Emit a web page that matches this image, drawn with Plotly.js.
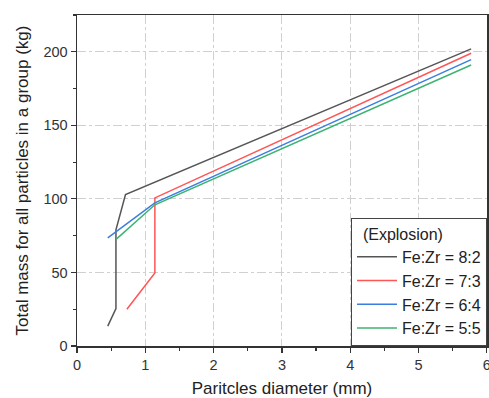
<!DOCTYPE html>
<html><head><meta charset="utf-8">
<script src="https://cdn.plot.ly/plotly-3.0.1.min.js"></script>
<style>html,body{margin:0;padding:0;background:#fff}#plot{width:489px;height:398px}</style>
</head><body><div id="plot"></div>
<script>
const seriesNames = ["Fe:Zr = 8:2", "Fe:Zr = 7:3", "Fe:Zr = 6:4", "Fe:Zr = 5:5"];
const x82 = [0.45, 0.57, 0.57, 0.71, 5.77];
const y82 = [13.5, 25.5, 79, 103, 202];
const x73 = [0.73, 1.14, 1.14, 5.77];
const y73 = [25, 49.7, 100.7, 199];
const x64 = [0.45, 1.14, 5.77];
const y64 = [73.5, 97.3, 194.7];
const x55 = [0.58, 1.14, 5.77];
const y55 = [72.8, 96, 191];
const colors = ["#555555", "#ff5555", "#3a7fe0", "#3cb371"];
const xs = [x82, x73, x64, x55], ys = [y82, y73, y64, y55];
const traces = seriesNames.map((n, i) => ({
  x: xs[i], y: ys[i], name: n, mode: "lines", type: "scatter",
  line: {color: colors[i], width: 1.5}
}));
const FONT = "Arial, 'Liberation Sans', sans-serif";
const axisCommon = {
  showline: true, linecolor: "#333", linewidth: 1.5, mirror: true,
  ticks: "outside", ticklen: 5, tickcolor: "#333", tickwidth: 1.2,
  showgrid: true, gridcolor: "#d0d0d0", griddash: "dashdot", gridwidth: 1,
  zeroline: false, tickfont: {family: FONT, size: 14.5, color: "#333"},
  ticklabeloverflow: "allow"
};
const layout = {
  width: 489, height: 398,
  margin: {l: 77, r: 2, t: 15, b: 51.5},
  paper_bgcolor: "#fff", plot_bgcolor: "#fff",
  showlegend: true,
  font: {family: FONT, color: "#222"},
  xaxis: Object.assign({}, axisCommon, {
    range: [0, 6.002], dtick: 1, tick0: 0,
    minor: {ticks: "outside", dtick: 0.5, ticklen: 3, tickcolor: "#333", showgrid: false},
    title: {text: "Paritcles diameter (mm)", font: {family: FONT, size: 17, color: "#222"}, standoff: 13}
  }),
  yaxis: Object.assign({}, axisCommon, {
    range: [0, 225], dtick: 50, tick0: 0,
    minor: {ticks: "outside", dtick: 25, ticklen: 3, tickcolor: "#333", showgrid: false},
    title: {text: "Total mass for all particles in a group (kg)", font: {family: FONT, size: 17, color: "#222"}, standoff: 10}
  }),
  legend: {
    x: 1, xanchor: "right", y: 0, yanchor: "bottom",
    bgcolor: "#fff", bordercolor: "#444", borderwidth: 1,
    font: {family: FONT, size: 16, color: "#222"},
    title: {text: "  (Explosion)", font: {family: FONT, size: 16, color: "#222"}},
    tracegroupgap: 0, itemwidth: 40
  }
};
Plotly.newPlot("plot", traces, layout, {displayModeBar: false, staticPlot: true});
</script></body></html>
